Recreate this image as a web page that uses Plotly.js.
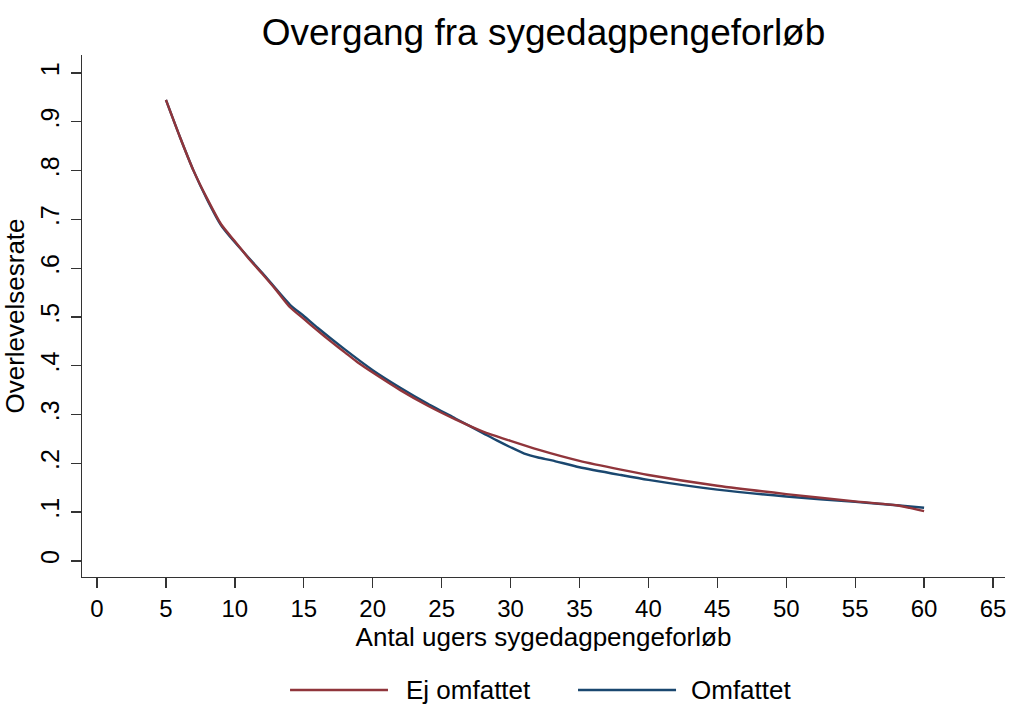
<!DOCTYPE html>
<html>
<head>
<meta charset="utf-8">
<script src="https://cdn.plot.ly/plotly-3.0.1.min.js"></script>
<style>
html,body{margin:0;padding:0;background:#fff;}
#chart{width:1009px;height:704px;}
</style>
</head>
<body>
<div id="chart"></div>
<script>
// Weeks of sickness benefit (x) and survival rates
const weeksEj = [5, 6, 7, 8, 9, 10, 11, 12, 13, 14, 15, 16, 17, 18, 19, 20, 22, 24, 26, 28, 30, 32, 35, 38, 40, 45, 50, 55, 58, 60];
const ejOmfattet = [0.945, 0.870, 0.800, 0.742, 0.690, 0.655, 0.620, 0.588, 0.555, 0.520, 0.496, 0.472, 0.449, 0.427, 0.405, 0.386, 0.350, 0.318, 0.290, 0.265, 0.246, 0.228, 0.205, 0.187, 0.176, 0.154, 0.137, 0.122, 0.114, 0.102];

const weeksOm = [5, 6, 7, 8, 9, 10, 12, 14, 15, 16, 18, 20, 22, 24, 26, 28, 29, 30, 31, 32, 33, 35, 38, 40, 45, 50, 55, 58, 60];
const omfattet = [0.945, 0.870, 0.800, 0.740, 0.688, 0.653, 0.590, 0.525, 0.502, 0.478, 0.433, 0.391, 0.355, 0.322, 0.292, 0.262, 0.247, 0.233, 0.220, 0.212, 0.206, 0.192, 0.176, 0.166, 0.146, 0.132, 0.121, 0.114, 0.109];

const seriesNames = ["Ej omfattet", "Omfattet"];
const xTicks = [0, 5, 10, 15, 20, 25, 30, 35, 40, 45, 50, 55, 60, 65];
const yTickVals = [0, 0.1, 0.2, 0.3, 0.4, 0.5, 0.6, 0.7, 0.8, 0.9, 1];
const yTickText = ["0", ".1", ".2", ".3", ".4", ".5", ".6", ".7", ".8", ".9", "1"];

const red = "#90353b";
const blue = "#1a476f";
const font = "Liberation Sans, Arial, Helvetica, sans-serif";

const traces = [
  {x: weeksOm, y: omfattet, name: seriesNames[1], type: "scatter", mode: "lines",
   line: {color: blue, width: 2.4, shape: "spline", smoothing: 0.6}},
  {x: weeksEj, y: ejOmfattet, name: seriesNames[0], type: "scatter", mode: "lines",
   line: {color: red, width: 2.4, shape: "spline", smoothing: 0.6}}
];

const legY = -0.2165;
const layout = {
  width: 1009, height: 704,
  paper_bgcolor: "#fff", plot_bgcolor: "#fff",
  font: {family: font, color: "#000"},
  margin: {l: 82, r: 4, t: 55, b: 127},
  showlegend: false,
  title: {text: "Overgang fra sygedagpengeforløb", font: {size: 37, family: font, color: "#000"},
          x: 0.5, xref: "paper", y: 0.955, yref: "container", xanchor: "center", yanchor: "middle"},
  xaxis: {
    range: [-1.09, 65.87], tickvals: xTicks, ticks: "outside", ticklen: 10, tickwidth: 1.3,
    tickcolor: "#333", showline: true, linecolor: "#333", linewidth: 1.3, showgrid: false, zeroline: false,
    tickfont: {size: 24, family: font}, ticklabelstandoff: 0,
    title: {text: "Antal ugers sygedagpengeforløb", font: {size: 26, family: font}, standoff: 3}
  },
  yaxis: {
    range: [-0.033, 1.037], tickvals: yTickVals, ticktext: yTickText, tickangle: -90,
    ticks: "outside", ticklen: 10, tickwidth: 1.3, tickcolor: "#333",
    showline: true, linecolor: "#333", linewidth: 1.3, showgrid: false, zeroline: false,
    tickfont: {size: 25, family: font}, ticklabelstandoff: 2,
    title: {text: "Overlevelsesrate", font: {size: 26, family: font}, standoff: 6}
  },
  shapes: [
    {type: "line", xref: "paper", yref: "paper", x0: 0.2254, x1: 0.3315, y0: legY, y1: legY,
     line: {color: red, width: 2.4}},
    {type: "line", xref: "paper", yref: "paper", x0: 0.5374, x1: 0.6436, y0: legY, y1: legY,
     line: {color: blue, width: 2.4}}
  ],
  annotations: [
    {text: seriesNames[0], xref: "paper", yref: "paper", x: 0.349, y: legY, xanchor: "left", yanchor: "middle",
     showarrow: false, font: {size: 26, family: font, color: "#000"}},
    {text: seriesNames[1], xref: "paper", yref: "paper", x: 0.6577, y: legY, xanchor: "left", yanchor: "middle",
     showarrow: false, font: {size: 26, family: font, color: "#000"}}
  ]
};

Plotly.newPlot("chart", traces, layout, {displayModeBar: false, staticPlot: true});
</script>
</body>
</html>
